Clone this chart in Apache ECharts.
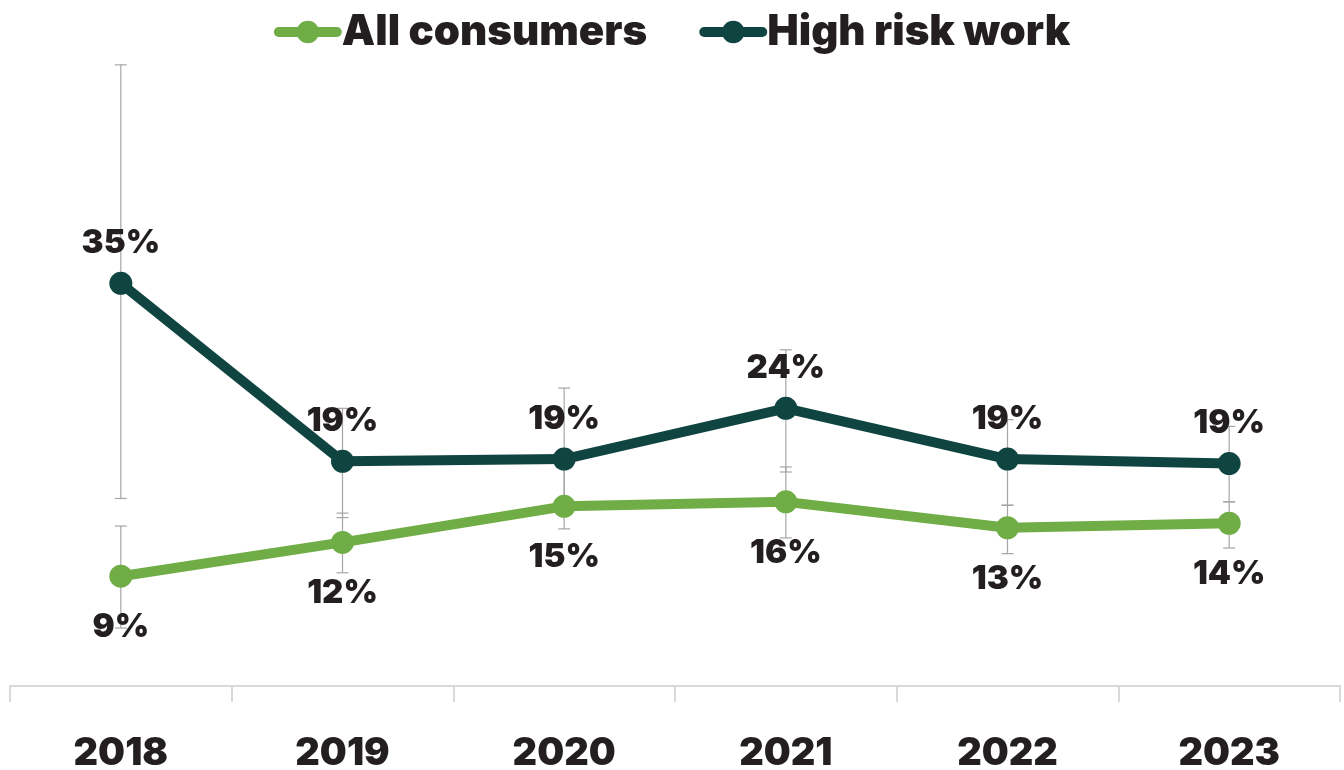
<!DOCTYPE html>
<html>
<head>
<meta charset="utf-8">
<script src="https://cdn.jsdelivr.net/npm/echarts@6/dist/echarts.min.js"></script>
<style>
html,body{margin:0;padding:0;background:#fff;}
#chart{width:1344px;height:770px;}
</style>
</head>
<body>
<div id="chart"></div>
<script>
var years = ['2018', '2019', '2020', '2021', '2022', '2023'];
var allConsumers = [9.0, 12.0, 15.2, 15.6, 13.3, 13.7];
var highRisk = [35.0, 19.2, 19.4, 23.9, 19.4, 19.0];
// error bar ranges
var allLow = [4.4, 9.3, 13.2, 12.4, 11.0, 11.5];
var allHigh = [13.45, 14.6, 19.3, 18.7, 15.3, 15.6];
var highLow = [15.9, 14.2, 15.3, 18.25, 15.3, 15.6];
var highHigh = [54.4, 23.9, 25.7, 29.1, 22.9, 22.3];

var green = '#70ad47';
var dark = '#0f4441';
var txt = '#231f20';
var font = 'Inter';

function errData(lo, hi){
	var out = [];
	for (var i = 0; i < lo.length; i++) {
		out.push([i, lo[i], hi[i]]);
	}
	return out;
}

function renderErr(params, api){
	var lo = api.coord([api.value(0), api.value(1)]);
	var hi = api.coord([api.value(0), api.value(2)]);
	var cap = 6;
	var st = {stroke: '#a6a6a6', lineWidth: 1.2};
	return {
		type: 'group',
		children: [
			{type: 'line', shape: {x1: lo[0], y1: lo[1], x2: hi[0], y2: hi[1]}, style: st},
			{type: 'line', shape: {x1: lo[0] - cap, y1: lo[1], x2: lo[0] + cap, y2: lo[1]}, style: st},
			{type: 'line', shape: {x1: hi[0] - cap, y1: hi[1], x2: hi[0] + cap, y2: hi[1]}, style: st}
		]
	};
}

var pctLabel = function(p){ return Math.round(p.value) + '%'; };

var chart = echarts.init(document.getElementById('chart'));
chart.setOption({
	animation: false,
	legend: {
		top: 6,
		left: 'center',
		itemWidth: 58,
		itemHeight: 28,
		itemGap: 52,
		data: ['All consumers', 'High risk work'],
		lineStyle: {width: 10, cap: 'round'},
		textStyle: {fontFamily: font, fontWeight: 900, fontSize: 42, color: txt, padding: [0, 0, 0, 0]}
	},
	grid: {left: 10, right: 4, top: 44, bottom: 84, outerBoundsMode: 'none', containLabel: false},
	xAxis: {
		type: 'category',
		data: years,
		boundaryGap: true,
		axisLine: {show: true, onZero: false, lineStyle: {color: '#d9d9d9', width: 2}},
		axisTick: {show: true, length: 16, lineStyle: {color: '#d9d9d9', width: 2}},
		axisLabel: {margin: 49, fontFamily: font, fontWeight: 900, fontSize: 38, color: txt}
	},
	yAxis: {
		type: 'value',
		min: -0.75,
		max: 56.25,
		show: false,
		splitLine: {show: false}
	},
	series: [
		{
			name: 'errAll',
			type: 'custom',
			renderItem: renderErr,
			data: errData(allLow, allHigh),
			z: 1,
			silent: true
		},
		{
			name: 'errHigh',
			type: 'custom',
			renderItem: renderErr,
			data: errData(highLow, highHigh),
			z: 1,
			silent: true
		},
		{
			name: 'All consumers',
			type: 'line',
			data: allConsumers,
			symbol: 'circle',
			symbolSize: 23,
			z: 3,
			lineStyle: {color: green, width: 10},
			itemStyle: {color: green},
			label: {
				show: true,
				position: 'bottom',
				distance: 23,
				fontFamily: font,
				fontWeight: 900,
				fontSize: 33,
				color: txt,
				formatter: pctLabel
			}
		},
		{
			name: 'High risk work',
			type: 'line',
			data: highRisk,
			symbol: 'circle',
			symbolSize: 23,
			z: 4,
			lineStyle: {color: dark, width: 10},
			itemStyle: {color: dark},
			label: {
				show: true,
				position: 'top',
				distance: 12,
				fontFamily: font,
				fontWeight: 900,
				fontSize: 33,
				color: txt,
				formatter: pctLabel
			}
		}
	]
});
</script>
</body>
</html>
